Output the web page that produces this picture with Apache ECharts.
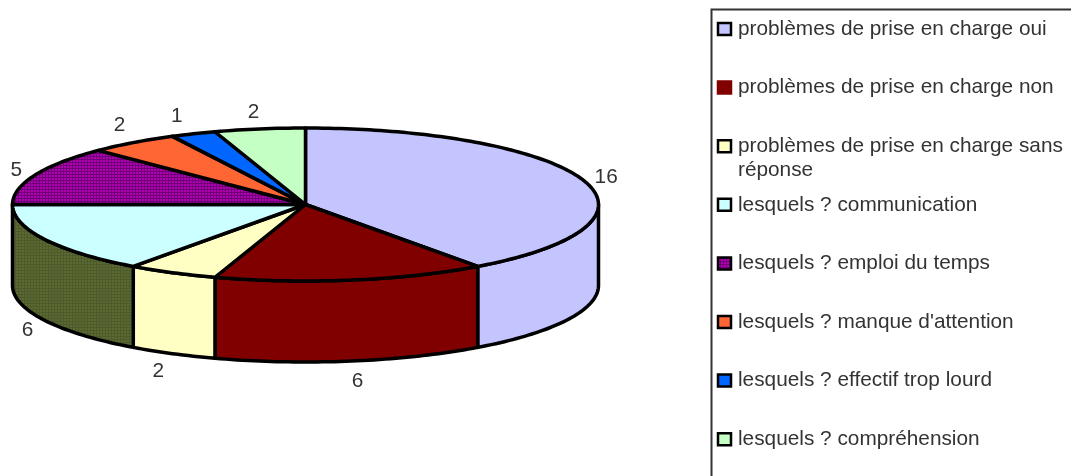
<!DOCTYPE html>
<html>
<head>
<meta charset="utf-8">
<style>
  html, body { margin: 0; padding: 0; background: #fff; }
  /* the reference is a soft, upscaled bitmap */
  #chart { width: 1071px; height: 476px; filter: blur(0.4px); }
</style>
<script src="https://cdn.jsdelivr.net/npm/echarts@6/dist/echarts.min.js"></script>
</head>
<body>
<div id="chart"></div>
<script>
const categories = [
  'problèmes de prise en charge oui',
  'problèmes de prise en charge non',
  'problèmes de prise en charge sans\nréponse',
  'lesquels ? communication',
  'lesquels ? emploi du temps',
  "lesquels ? manque d'attention",
  'lesquels ? effectif trop lourd',
  'lesquels ? compréhension'
]
const values = [16, 6, 2, 6, 5, 2, 1, 2]

// small dither tiles, the old chart uses them for two slices
const ditherTile = (base, dot) => {
  const c = document.createElement('canvas')
  c.width = 3
  c.height = 3
  const ctx = c.getContext('2d')
  ctx.fillStyle = base
  ctx.fillRect(0, 0, 3, 3)
  ctx.fillStyle = dot
  ctx.fillRect(0, 0, 3, 1)
  ctx.fillRect(0, 0, 1, 3)
  return { image: c, repeat: 'repeat' }
}

const purple = ditherTile('#b000b0', '#70007a')
const olive = ditherTile('#5a6a30', '#4f5a2c')
const topColors = ['#c4c4ff', '#800000', '#ffffc4', '#ccffff', purple, '#ff6633', '#0066ff', '#c4ffc4']
const sideColors = ['#c4c4ff', '#800000', '#ffffc4', olive, purple, '#ff6633', '#0066ff', '#c4ffc4']

// pie geometry
const cx = 305.5
const cy = 204.5
const rx = 293
const ry = 76.5
const depth = 81
const total = values.reduce((a, b) => a + b, 0)

// hand nudges for the value labels, per slice
const labelNudge = [[3, 2], [3, 2], [-5, 2], [1, 2], [0, 2], [-2, -3], [-9, -1], [-3, 1]]

const labelFont = '20.8px "Liberation Sans"'

// angle is clockwise from 12 o'clock
const rimPoint = (a, dy = 0) => [cx + rx * Math.sin(a), cy - ry * Math.cos(a) + dy]

const arcPoints = (from, to, dy = 0) => {
  const pts = []
  const steps = Math.max(2, Math.ceil((to - from) / 0.02))
  for (let i = 0; i <= steps; i++) {
    pts.push(rimPoint(from + (to - from) * i / steps, dy))
  }
  return pts
}

const startAngle = (idx) => {
  let sum = 0
  for (let i = 0; i < idx; i++) sum += values[i]
  return sum / total * Math.PI * 2
}

const renderSlice = (params, api) => {
  const idx = params.dataIndex
  const a0 = startAngle(idx)
  const a1 = a0 + api.value(1) / total * Math.PI * 2
  const mid = (a0 + a1) / 2
  const children = []
  const edge = { stroke: '#000', lineWidth: 3.5, lineJoin: 'round' }

  // front wall, only what lies between 3 and 9 o'clock
  const f0 = Math.max(a0, Math.PI / 2)
  const f1 = Math.min(a1, Math.PI * 1.5)
  if (f1 > f0) {
    children.push({
      type: 'polygon',
      z2: 1,
      shape: { points: arcPoints(f0, f1).concat(arcPoints(f0, f1, depth).reverse()) },
      style: { fill: sideColors[idx], ...edge }
    })
  }

  // top face
  children.push({
    type: 'polygon',
    z2: 2,
    shape: { points: [[cx, cy]].concat(arcPoints(a0, a1)) },
    style: { fill: topColors[idx], ...edge }
  })

  // value label outside the rim
  const lower = Math.cos(mid) < 0
  children.push({
    type: 'text',
    z2: 3,
    x: cx + (rx + 20) * Math.sin(mid) + labelNudge[idx][0],
    y: cy - (ry + 18) * Math.cos(mid) + (lower ? depth : 0) + labelNudge[idx][1],
    style: {
      text: String(api.value(1)),
      fill: '#333',
      font: labelFont,
      align: 'center',
      verticalAlign: 'middle'
    }
  })
  return { type: 'group', children }
}

// legend box runs off the right and bottom of the picture
const legendTop = 29
const legendStep = 58.6
const legendGraphics = [{
  type: 'rect',
  silent: true,
  shape: { x: 711.5, y: 9.5, width: 400, height: 500 },
  style: { fill: '#fff', stroke: '#333', lineWidth: 2 }
}]
categories.forEach((name, i) => {
  const y = legendTop + i * legendStep
  legendGraphics.push({
    type: 'rect',
    silent: true,
    shape: { x: 718, y: y - 6, width: 13, height: 12 },
    style: { fill: topColors[i], stroke: i === 1 ? '#800000' : '#000', lineWidth: 2.5 }
  })
  legendGraphics.push({
    type: 'text',
    silent: true,
    x: 738,
    y: y - 12,
    style: {
      text: name,
      fill: '#333',
      font: labelFont,
      lineHeight: 24,
      verticalAlign: 'top'
    }
  })
})

const chart = echarts.init(document.getElementById('chart'))
chart.setOption({
  animation: false,
  backgroundColor: '#fff',
  graphic: legendGraphics,
  series: [{
    type: 'custom',
    coordinateSystem: 'none',
    silent: true,
    renderItem: renderSlice,
    data: values.map((v, i) => [i, v])
  }]
})
</script>
</body>
</html>
